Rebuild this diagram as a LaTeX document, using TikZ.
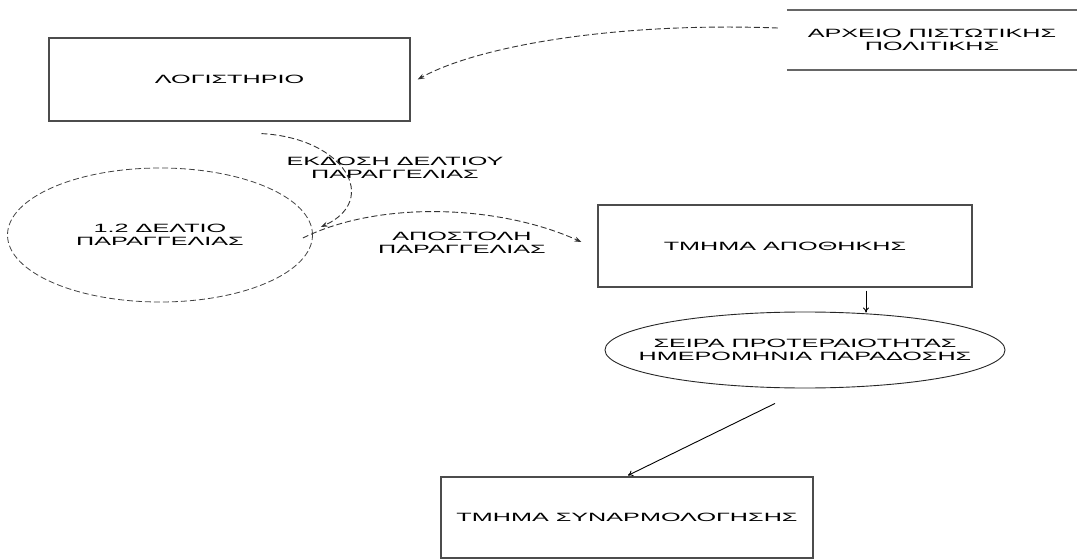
\documentclass[tikz,border=0pt]{standalone}
\usepackage{fontspec}
\newfontfamily\dfdfont[FakeStretch=2.1]{Liberation Sans}
\usetikzlibrary{shapes.geometric,arrows.meta,calc}

\begin{document}
\begin{tikzpicture}[x=1pt,y=-1pt,
  every node/.style={font=\dfdfont\fontsize{12}{13}\selectfont,align=center,inner sep=0pt},
  entity/.style={draw=black!70,line width=1.2pt,rectangle,minimum width=#1,minimum height=82pt},
  process/.style={draw=black!85,line width=0.9pt,ellipse,inner xsep=-60pt,inner ysep=0pt},
  dflow/.style={draw=black!80,line width=0.9pt,dash pattern=on 6pt off 3pt,-{Stealth[length=7pt,width=5pt]}},
  sflow/.style={draw=black,line width=0.9pt,-{To[length=5pt,width=6pt]}},
  lbl/.style={fill=none}
]
\useasboundingbox (0,0) rectangle (1077,559);

% external entities
\node[entity=361pt,minimum height=83pt] (log) at (229.5,79.5) {ΛΟΓΙΣΤΗΡΙΟ};
\node[entity=374pt] (apo) at (785,246) {ΤΜΗΜΑ ΑΠΟΘΗΚΗΣ};
\node[entity=372pt,minimum height=81pt] (syn) at (627,517.5) {ΤΜΗΜΑ ΣΥΝΑΡΜΟΛΟΓΗΣΗΣ};

% data store (open at the right)
\node[minimum width=290pt,minimum height=60pt] (store) at (932,40) {ΑΡΧΕΙΟ ΠΙΣΤΩΤΙΚΗΣ\\ΠΟΛΙΤΙΚΗΣ};
\draw[black!60,line width=1.6pt] (store.north west) -- (store.north east)
                                 (store.south west) -- (store.south east);

% processes
\node[process,draw=black!75,line width=0.8pt,dash pattern=on 6pt off 3pt,minimum width=305pt,minimum height=134pt] (d12) at (160,235)
  {1.2 ΔΕΛΤΙΟ\\ΠΑΡΑΓΓΕΛΙΑΣ};
\node[process,minimum width=400pt,minimum height=76pt] (seira) at (805,350)
  {ΣΕΙΡΑ ΠΡΟΤΕΡΑΙΟΤΗΤΑΣ\\ΗΜΕΡΟΜΗΝΙΑ ΠΑΡΑΔΟΣΗΣ};

% flow labels
\node[lbl] (lekd) at (395,168) {ΕΚΔΟΣΗ ΔΕΛΤΙΟΥ\\ΠΑΡΑΓΓΕΛΙΑΣ};
\node[lbl] (lapo) at (462,243) {ΑΠΟΣΤΟΛΗ\\ΠΑΡΑΓΓΕΛΙΑΣ};

% data flows
\draw[dflow] ($(store.west)+(-9,-12)$) .. controls (620,22) and (480,45) .. ($(log.east)+(7,0)$);
\draw[dflow] ($(log.south)+(32,12)$) .. controls (345,138) and (380,200) .. ($(d12.east)+(8,-8)$);
\draw[dflow] ($(d12.east)+(-10,3)$) .. controls (380,200) and (500,205) .. ($(apo.west)+(-16,-4)$);
\draw[sflow] ($(apo.south)+(81,3)$) -- ($(seira.north)+(61,1)$);
\coordinate (sfrom) at ($(seira.south)+(-30,15)$);
\draw[sflow] (sfrom) -- ($(syn.north)+(1,-1)$);
\end{tikzpicture}
\end{document}
